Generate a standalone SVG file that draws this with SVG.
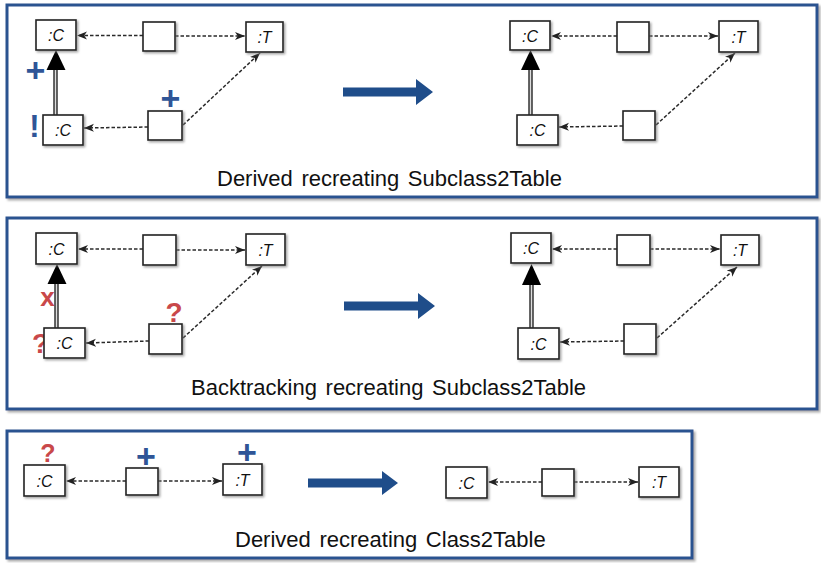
<svg xmlns="http://www.w3.org/2000/svg" width="821" height="563" viewBox="0 0 821 563">
<defs>
<filter id="sh" x="-10%" y="-10%" width="130%" height="130%">
<feDropShadow dx="1.5" dy="1.5" stdDeviation="1" flood-color="#777" flood-opacity="0.7"/>
</filter>
<filter id="psh" x="-5%" y="-5%" width="110%" height="115%">
<feDropShadow dx="2" dy="2" stdDeviation="1.2" flood-color="#888" flood-opacity="0.7"/>
</filter>
<marker id="ah" markerUnits="userSpaceOnUse" markerWidth="11" markerHeight="9" refX="10" refY="4.5" orient="auto">
<path d="M0,0.5 L10,4.5 L0,8.5 L2.8,4.5 Z" fill="#222"/>
</marker>
</defs>
<style>
.panel{fill:#fff;stroke:#2c5290;stroke-width:3;}
.node rect{fill:#fff;stroke:#222;stroke-width:1.6;}
.lbl{font-family:"Liberation Sans",Arial,sans-serif;font-style:italic;font-size:16px;fill:#111;text-anchor:middle;}
.cap{font-family:"Liberation Sans",Arial,sans-serif;font-size:22px;fill:#111;word-spacing:2.5px;}
.dash{fill:none;stroke:#2a2a2a;stroke-width:1.5;stroke-dasharray:3.5,2;marker-end:url(#ah);}
.inh-o{stroke:#333;stroke-width:4.5;}
.inh-i{stroke:#ddd;stroke-width:1.5;}
.big{fill:#1f4d8a;}
.blue{font-family:"Liberation Sans",Arial,sans-serif;font-weight:bold;font-size:34px;fill:#2f5597;text-anchor:middle;}
.red{font-family:"Liberation Sans",Arial,sans-serif;font-weight:bold;font-size:28px;fill:#c9484a;text-anchor:middle;}
</style>

<!-- panels -->
<g id="panel1"><rect class="panel" x="7" y="5" width="810" height="192" filter="url(#psh)"/></g>
<g id="panel2"><rect class="panel" x="7" y="218" width="810" height="191" filter="url(#psh)"/></g>
<g id="panel3"><rect class="panel" x="7" y="431" width="685" height="127" filter="url(#psh)"/></g>

<!-- marks drawn behind nodes -->
<g id="marks">
<text class="blue" x="35.5" y="82">+</text>
<text class="blue" x="34.5" y="137" style="font-size:31px">!</text>
<text class="blue" x="170.5" y="110">+</text>
<text class="red" x="47.5" y="306" style="font-size:26px">x</text>
<text class="red" x="40.5" y="353">?</text>
<text class="red" x="174" y="322">?</text>
<text class="red" x="48" y="462" style="font-size:25px">?</text>
<text class="blue" x="146" y="468">+</text>
<text class="blue" x="247" y="464">+</text>
</g>

<!-- big arrows -->
<g id="bigarrows">
<path class="big" d="M343,87.5 H416 V79 L433,92 L416,105 V96.5 H343 Z"/>
<path class="big" d="M344,301.5 H418 V293 L435,306 L418,319 V310.5 H344 Z"/>
<path class="big" d="M308,478.5 H382 V471 L398,483 L382,495 V487.5 H308 Z"/>
</g>

<!-- connectors -->
<g id="connectors">
<!-- panel 1 left -->
<line class="inh-o" x1="55.5" y1="115" x2="55.5" y2="69"/>
<line class="inh-i" x1="55.5" y1="115" x2="55.5" y2="69"/>
<path d="M46.5,70 L56,50 L65.5,70 Z" fill="#000"/>
<line class="dash" x1="143" y1="35.5" x2="77" y2="35.5"/>
<line class="dash" x1="175" y1="36" x2="245" y2="36"/>
<line class="dash" x1="148" y1="127" x2="84" y2="128"/>
<line class="dash" x1="183" y1="125" x2="260" y2="53"/>
<!-- panel 1 right -->
<line class="inh-o" x1="530.5" y1="115" x2="530.5" y2="69"/>
<line class="inh-i" x1="530.5" y1="115" x2="530.5" y2="69"/>
<path d="M521,70 L530.5,50 L540,70 Z" fill="#000"/>
<line class="dash" x1="617" y1="36" x2="551" y2="36"/>
<line class="dash" x1="649" y1="36" x2="718" y2="36"/>
<line class="dash" x1="623" y1="126" x2="559" y2="127"/>
<line class="dash" x1="656" y1="125" x2="735" y2="53"/>
<!-- panel 2 left -->
<line class="inh-o" x1="56.5" y1="328" x2="56.5" y2="283"/>
<line class="inh-i" x1="56.5" y1="328" x2="56.5" y2="283"/>
<path d="M47.5,284 L57,264 L66.5,284 Z" fill="#000"/>
<line class="dash" x1="143" y1="249" x2="78" y2="249"/>
<line class="dash" x1="176" y1="250" x2="245" y2="250"/>
<line class="dash" x1="149" y1="341" x2="86" y2="343"/>
<line class="dash" x1="183" y1="338" x2="262" y2="266"/>
<!-- panel 2 right -->
<line class="inh-o" x1="531.5" y1="328" x2="531.5" y2="284"/>
<line class="inh-i" x1="531.5" y1="328" x2="531.5" y2="284"/>
<path d="M522,285 L531.5,264 L541,285 Z" fill="#000"/>
<line class="dash" x1="617" y1="249" x2="552" y2="249"/>
<line class="dash" x1="650" y1="249" x2="720" y2="249"/>
<line class="dash" x1="624" y1="341" x2="560" y2="342"/>
<line class="dash" x1="657" y1="338" x2="737" y2="267"/>
<!-- panel 3 -->
<line class="dash" x1="126" y1="481" x2="66" y2="481"/>
<line class="dash" x1="158" y1="481" x2="222" y2="481"/>
<line class="dash" x1="542" y1="482" x2="488" y2="482"/>
<line class="dash" x1="574" y1="482" x2="638" y2="482"/>
</g>

<!-- panel 1 left nodes -->
<g id="p1l_C1" class="node"><rect x="36" y="20" width="40" height="30" filter="url(#sh)"/><text class="lbl" x="56" y="41">:C</text></g>
<g id="p1l_B1" class="node"><rect x="143" y="22" width="32" height="29" filter="url(#sh)"/></g>
<g id="p1l_T" class="node"><rect x="246" y="22" width="37" height="30" filter="url(#sh)"/><text class="lbl" x="264.5" y="43">:T</text></g>
<g id="p1l_C2" class="node"><rect x="43" y="115" width="40" height="30" filter="url(#sh)"/><text class="lbl" x="63" y="136">:C</text></g>
<g id="p1l_B2" class="node"><rect x="148" y="111" width="34" height="29" filter="url(#sh)"/></g>
<!-- panel 1 right nodes -->
<g id="p1r_C1" class="node"><rect x="510" y="21" width="40" height="29" filter="url(#sh)"/><text class="lbl" x="530" y="41.5">:C</text></g>
<g id="p1r_B1" class="node"><rect x="617" y="22" width="32" height="30" filter="url(#sh)"/></g>
<g id="p1r_T" class="node"><rect x="719" y="21" width="39" height="31" filter="url(#sh)"/><text class="lbl" x="738.5" y="42.5">:T</text></g>
<g id="p1r_C2" class="node"><rect x="517" y="115" width="41" height="30" filter="url(#sh)"/><text class="lbl" x="537.5" y="136">:C</text></g>
<g id="p1r_B2" class="node"><rect x="623" y="111" width="32" height="29" filter="url(#sh)"/></g>
<!-- panel 2 left nodes -->
<g id="p2l_C1" class="node"><rect x="36" y="233" width="41" height="31" filter="url(#sh)"/><text class="lbl" x="56.5" y="254.5">:C</text></g>
<g id="p2l_B1" class="node"><rect x="143" y="235" width="33" height="30" filter="url(#sh)"/></g>
<g id="p2l_T" class="node"><rect x="246" y="234" width="39" height="31" filter="url(#sh)"/><text class="lbl" x="265.5" y="255.5">:T</text></g>
<g id="p2l_C2" class="node"><rect x="44" y="328" width="41" height="30" filter="url(#sh)"/><text class="lbl" x="64.5" y="349">:C</text></g>
<g id="p2l_B2" class="node"><rect x="149" y="324" width="33" height="30" filter="url(#sh)"/></g>
<!-- panel 2 right nodes -->
<g id="p2r_C1" class="node"><rect x="511" y="233" width="40" height="30" filter="url(#sh)"/><text class="lbl" x="531" y="254">:C</text></g>
<g id="p2r_B1" class="node"><rect x="617" y="235" width="33" height="30" filter="url(#sh)"/></g>
<g id="p2r_T" class="node"><rect x="721" y="235" width="38" height="30" filter="url(#sh)"/><text class="lbl" x="740" y="256">:T</text></g>
<g id="p2r_C2" class="node"><rect x="518" y="328" width="41" height="31" filter="url(#sh)"/><text class="lbl" x="538.5" y="349.5">:C</text></g>
<g id="p2r_B2" class="node"><rect x="624" y="324" width="32" height="30" filter="url(#sh)"/></g>
<!-- panel 3 nodes -->
<g id="p3l_C" class="node"><rect x="24" y="465" width="41" height="31" filter="url(#sh)"/><text class="lbl" x="44.5" y="486.5">:C</text></g>
<g id="p3l_B" class="node"><rect x="126" y="468" width="32" height="27" filter="url(#sh)"/></g>
<g id="p3l_T" class="node"><rect x="223" y="464" width="39" height="31" filter="url(#sh)"/><text class="lbl" x="242.5" y="485.5">:T</text></g>
<g id="p3r_C" class="node"><rect x="446" y="467" width="41" height="31" filter="url(#sh)"/><text class="lbl" x="466.5" y="488.5">:C</text></g>
<g id="p3r_B" class="node"><rect x="542" y="469" width="32" height="27" filter="url(#sh)"/></g>
<g id="p3r_T" class="node"><rect x="639" y="467" width="40" height="30" filter="url(#sh)"/><text class="lbl" x="659" y="488">:T</text></g>

<!-- captions -->
<g id="captions">
<text class="cap" x="217" y="185.5">Derived recreating Subclass2Table</text>
<text class="cap" x="191" y="395">Backtracking recreating Subclass2Table</text>
<text class="cap" x="235" y="547">Derived recreating Class2Table</text>
</g>
</svg>
